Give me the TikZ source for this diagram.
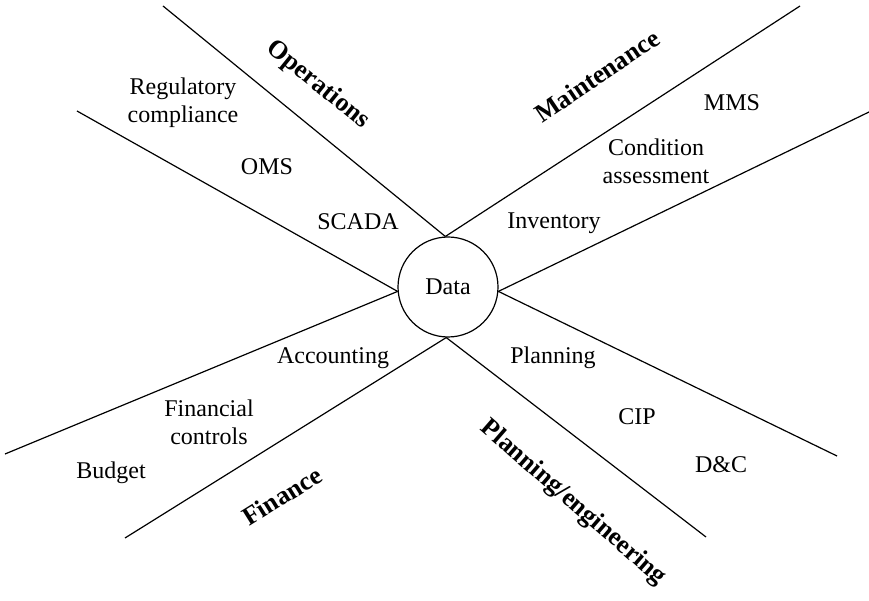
\documentclass[tikz,border=0pt]{standalone}
\usepackage{fontspec}
\setmainfont{Liberation Serif}
\begin{document}
\begin{tikzpicture}[x=1pt,y=1pt,
  spoke/.style={line width=1.2pt},
  item/.style={font=\fontsize{24}{28}\selectfont, align=center, inner sep=0pt},
  area/.style={font=\fontsize{26}{30}\selectfont\bfseries, inner sep=0pt}]
\useasboundingbox (0,0) rectangle (869,600);
\node[draw, circle, line width=1.2pt, minimum size=100pt, inner sep=0pt,
      font=\fontsize{24}{28}\selectfont] (data) at (448,313) {Data};
\coordinate (eOps) at (163,594);
\coordinate (eLU) at (77,489);
\coordinate (eLL) at (5,146);
\coordinate (eFin) at (125,62);
\coordinate (ePlan) at (706,63);
\coordinate (eRL) at (837,144);
\coordinate (eRU) at (869,488);
\coordinate (eMnt) at (800,594);
\draw[spoke] (data.93) -- (eOps);
\draw[spoke] (data.93) -- (eMnt);
\draw[spoke] (data.185) -- (eLU);
\draw[spoke] (data.185) -- (eLL);
\draw[spoke] (data.268) -- (eFin);
\draw[spoke] (data.268) -- (ePlan);
\draw[spoke] (data.355) -- (eRL);
\draw[spoke] (data.355) -- (eRU);
\node[item] (reg) at (183,497) {Regulatory\\compliance};
\node[item] (oms) at (267,433) {OMS};
\node[item] (scada) at (358,378) {SCADA};
\node[area, rotate=-39] (ops) at (318,515) {Operations};
\node[area, rotate=34] (mnt) at (597,524) {Maintenance};
\node[item] (mms) at (732,497) {MMS};
\node[item] (cond) at (656,439) {Condition\\assessment};
\node[item] (inv) at (554,377) {Inventory};
\node[item] (acc) at (333,242) {Accounting};
\node[item] (finc) at (209,178) {Financial\\controls};
\node[item] (bud) at (111,127) {Budget};
\node[area, rotate=32] (fin) at (282,104) {Finance};
\node[item] (plan) at (553,242) {Planning};
\node[item] (cip) at (637,183) {CIP};
\node[item] (dc) at (721,135) {D\&C};
\node[area, rotate=-41] (pe) at (573,97) {Planning/engineering};
\end{tikzpicture}
\end{document}
